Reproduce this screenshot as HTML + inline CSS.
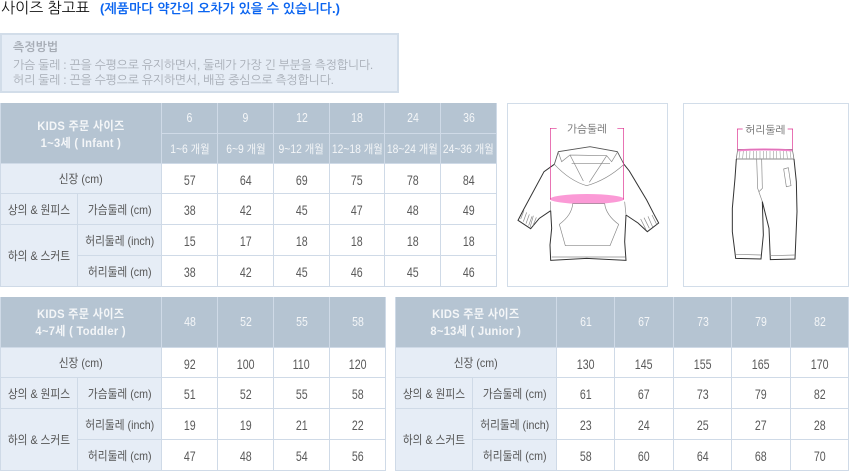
<!DOCTYPE html>
<html lang="ko"><head><meta charset="utf-8"><title>사이즈 참고표</title>
<style>
html,body{margin:0;padding:0;background:#fff;width:849px;height:471px;overflow:hidden}
body{position:relative;font-family:"Liberation Sans","NanumGothic","Noto Sans CJK KR",sans-serif}
.title{position:absolute;left:1px;top:0;font-size:15px;line-height:18px;color:#111;white-space:nowrap;font-family:"Liberation Sans","NanumGothic",sans-serif}
.title b{position:absolute;left:99px;top:0;color:#0a64f0;font-size:13px;letter-spacing:.08px}
.note{position:absolute;left:0;top:33px;width:395px;height:56px;border:2px solid #d2dde9;background:#e6edf6;color:#a7adb6;font-size:12px;font-family:"Liberation Sans","NanumGothic",sans-serif}
.note div{position:absolute;left:11px;white-space:nowrap;line-height:15px;letter-spacing:-.25px}
.wrap{position:absolute;overflow:hidden}
table{border-collapse:separate;border-spacing:1px;background:#cfdae7;table-layout:fixed;margin-top:-1px;font-family:"Liberation Sans","Noto Sans CJK KR",sans-serif}
td{padding:0;text-align:center;vertical-align:middle;font-size:12px;color:#555;background:#fff;overflow:hidden;white-space:nowrap}
td i{font-style:normal;display:inline-block;margin:0 -30px;transform:scaleX(.92)}
td.n{font-size:14px;padding-top:2px;box-sizing:border-box;color:#5a5a5a}
td.n i{transform:scaleX(.76)}
td.h{background:#b5c4d2;color:#f4f6f8;font-size:12.5px}
td.h i{transform:scaleX(.84)}
td.hs{font-size:11.5px}
td.hs i{transform:scaleX(.9)}
td.t{font-weight:bold;font-size:12px;line-height:17px;letter-spacing:.3px;padding-top:1px;box-sizing:border-box}
td.t i{transform:scaleX(.93)}
td.l{background:#e6edf6;color:#555;font-size:12px}
td.l i{transform:scaleX(.89)}
.box{position:absolute;border:1px solid #d2dde9;box-sizing:border-box;background:#fff}
svg{position:absolute;overflow:visible}
svg text{font-family:"Liberation Sans","NanumGothic","Noto Sans CJK KR",sans-serif}
</style></head><body>
<div class="title">사이즈 참고표 <b>(제품마다 약간의 오차가 있을 수 있습니다.)</b></div>
<div class="note">
<div style="top:5px;font-weight:bold;letter-spacing:0">측정방법</div>
<div style="top:23px">가슴 둘레 : 끈을 수평으로 유지하면서, 둘레가 가장 긴 부분을 측정합니다.</div>
<div style="top:38px">허리 둘레 : 끈을 수평으로 유지하면서, 배꼽 중심으로 측정합니다.</div>
</div>

<div class="wrap" style="left:0;top:103px;width:497px;height:184px">
<table style="width:497px"><colgroup><col style="width:76px"><col style="width:83px"><col style="width:55px"><col style="width:55px"><col style="width:55px"><col style="width:54px"><col style="width:55px"><col style="width:55px"></colgroup>
<tr style="height:30px"><td class="h t" style="padding-top:4px" colspan="2" rowspan="2"><i>KIDS 주문 사이즈<br>1~3세 ( Infant )</i></td><td class="h"><i>6</i></td><td class="h"><i>9</i></td><td class="h"><i>12</i></td><td class="h"><i>18</i></td><td class="h"><i>24</i></td><td class="h"><i>36</i></td></tr>
<tr style="height:29px"><td class="h hs"><i>1~6 개월</i></td><td class="h hs"><i>6~9 개월</i></td><td class="h hs"><i>9~12 개월</i></td><td class="h hs"><i>12~18 개월</i></td><td class="h hs"><i>18~24 개월</i></td><td class="h hs"><i>24~36 개월</i></td></tr>
<tr style="height:29px"><td class="l" colspan="2"><i>신장 (cm)</i></td><td class="n"><i>57</i></td><td class="n"><i>64</i></td><td class="n"><i>69</i></td><td class="n"><i>75</i></td><td class="n"><i>78</i></td><td class="n"><i>84</i></td></tr>
<tr style="height:30px"><td class="l"><i>상의 &amp; 원피스</i></td><td class="l"><i>가슴둘레 (cm)</i></td><td class="n"><i>38</i></td><td class="n"><i>42</i></td><td class="n"><i>45</i></td><td class="n"><i>47</i></td><td class="n"><i>48</i></td><td class="n"><i>49</i></td></tr>
<tr style="height:30px"><td class="l" rowspan="2"><i>하의 &amp; 스커트</i></td><td class="l"><i>허리둘레 (inch)</i></td><td class="n"><i>15</i></td><td class="n"><i>17</i></td><td class="n"><i>18</i></td><td class="n"><i>18</i></td><td class="n"><i>18</i></td><td class="n"><i>18</i></td></tr>
<tr style="height:30px"><td class="l"><i>허리둘레 (cm)</i></td><td class="n"><i>38</i></td><td class="n"><i>42</i></td><td class="n"><i>45</i></td><td class="n"><i>46</i></td><td class="n"><i>45</i></td><td class="n"><i>46</i></td></tr>
</table></div>

<div class="wrap" style="left:0;top:297px;width:386px;height:174px">
<table style="width:386px"><colgroup><col style="width:76px"><col style="width:83px"><col style="width:55px"><col style="width:55px"><col style="width:55px"><col style="width:55px"></colgroup>
<tr style="height:50px"><td class="h t" colspan="2"><i>KIDS 주문 사이즈<br>4~7세 ( Toddler )</i></td><td class="h"><i>48</i></td><td class="h"><i>52</i></td><td class="h"><i>55</i></td><td class="h"><i>58</i></td></tr>
<tr style="height:29px"><td class="l" colspan="2"><i>신장 (cm)</i></td><td class="n"><i>92</i></td><td class="n"><i>100</i></td><td class="n"><i>110</i></td><td class="n"><i>120</i></td></tr>
<tr style="height:30px"><td class="l"><i>상의 &amp; 원피스</i></td><td class="l"><i>가슴둘레 (cm)</i></td><td class="n"><i>51</i></td><td class="n"><i>52</i></td><td class="n"><i>55</i></td><td class="n"><i>58</i></td></tr>
<tr style="height:30px"><td class="l" rowspan="2"><i>하의 &amp; 스커트</i></td><td class="l"><i>허리둘레 (inch)</i></td><td class="n"><i>19</i></td><td class="n"><i>19</i></td><td class="n"><i>21</i></td><td class="n"><i>22</i></td></tr>
<tr style="height:30px"><td class="l"><i>허리둘레 (cm)</i></td><td class="n"><i>47</i></td><td class="n"><i>48</i></td><td class="n"><i>54</i></td><td class="n"><i>56</i></td></tr>
</table></div>

<div class="wrap" style="left:395px;top:297px;width:454px;height:174px">
<table style="width:454px"><colgroup><col style="width:76px"><col style="width:83px"><col style="width:57px"><col style="width:58px"><col style="width:57px"><col style="width:58px"><col style="width:57px"></colgroup>
<tr style="height:50px"><td class="h t" colspan="2"><i>KIDS 주문 사이즈<br>8~13세 ( Junior )</i></td><td class="h"><i>61</i></td><td class="h"><i>67</i></td><td class="h"><i>73</i></td><td class="h"><i>79</i></td><td class="h"><i>82</i></td></tr>
<tr style="height:29px"><td class="l" colspan="2"><i>신장 (cm)</i></td><td class="n"><i>130</i></td><td class="n"><i>145</i></td><td class="n"><i>155</i></td><td class="n"><i>165</i></td><td class="n"><i>170</i></td></tr>
<tr style="height:30px"><td class="l"><i>상의 &amp; 원피스</i></td><td class="l"><i>가슴둘레 (cm)</i></td><td class="n"><i>61</i></td><td class="n"><i>67</i></td><td class="n"><i>73</i></td><td class="n"><i>79</i></td><td class="n"><i>82</i></td></tr>
<tr style="height:30px"><td class="l" rowspan="2"><i>하의 &amp; 스커트</i></td><td class="l"><i>허리둘레 (inch)</i></td><td class="n"><i>23</i></td><td class="n"><i>24</i></td><td class="n"><i>25</i></td><td class="n"><i>27</i></td><td class="n"><i>28</i></td></tr>
<tr style="height:30px"><td class="l"><i>허리둘레 (cm)</i></td><td class="n"><i>58</i></td><td class="n"><i>60</i></td><td class="n"><i>64</i></td><td class="n"><i>68</i></td><td class="n"><i>70</i></td></tr>
</table></div>

<div class="box" style="left:507px;top:103px;width:161px;height:184px"></div>
<svg style="left:500px;top:95px" width="170" height="200" viewBox="0 0 510 600">
<ellipse cx="261" cy="312" rx="111" ry="15" fill="#fb9ad6"/>
<g fill="none" stroke="#333" stroke-width="3">
<path d="M163 208 L132 230 L70 345 L54 376 L92 401 L118 370 L152 347"/>
<path d="M372 208 L388 228 L440 315 L462 358 L476 384 L442 410 L414 384 L378 360"/>
<path d="M152 347 L155 400 L150 450 L152 496 L260 490 L378 496 L374 440 L378 360"/>
<path d="M163 208 L175 170 L270 155 L352 170 L372 208" stroke="#555" stroke-width="2.5"/>
</g>
<g fill="none" stroke="#888" stroke-width="2">
<path d="M163 208 Q210 258 260 272 Q320 255 372 208"/>
<path d="M175 172 L185 200 L210 180 L250 258 M352 172 L335 200 L320 182 L268 262 M210 180 L320 182 M215 205 L330 205"/>
<path d="M152 320 L152 347 M374 320 L378 360"/>
<path d="M218 326 Q216 360 178 388 L196 452 L330 452 L356 388 Q318 360 314 326 Z"/>
<path d="M155 486 L375 486"/>
<path d="M62 372 L72 346 M70 380 L80 352 M78 386 L88 358 M86 392 L96 364 M100 362 L90 398 M109 367 L99 392 M422 372 L438 404 M432 368 L448 400 M444 364 L458 396 M456 360 L470 388"/>
</g>
<g fill="none" stroke="#dd2e8e" stroke-width="2">
<path d="M170 100 L151 100 L151 314"/><path d="M352 100 L371 100 L371 314"/>
</g>
<text x="261" y="112" font-size="32" fill="#666" text-anchor="middle">가슴둘레</text>
</svg>

<div class="box" style="left:683px;top:103px;width:166px;height:184px"></div>
<svg style="left:675px;top:95px" width="174" height="200" viewBox="0 0 522 600">
<path d="M188 163 L352 163 L357 192 L184 192 Z" fill="#fff" stroke="#666" stroke-width="2"/>
<path d="M195 168 L192 190 M205 168 L203 190 M215 168 L214 190 M225 168 L224 190 M235 168 L235 190 M245 168 L245 190 M255 168 L255 190 M265 168 L265 190 M275 168 L275 190 M285 168 L285 190 M295 168 L295 190 M305 168 L305 190 M315 168 L316 190 M325 168 L326 190 M335 168 L337 190 M345 168 L348 190" stroke="#888" stroke-width="1.5" fill="none"/>
<path d="M188 163 Q270 157 352 163 L352 169 Q270 164 188 169 Z" fill="#f06ac0" opacity=".8"/>
<g fill="none" stroke="#333" stroke-width="3">
<path d="M184 192 L180 250 L172 340 L172 410 L182 490 L258 492 L265 420 L262 320"/>
<path d="M357 192 L364 260 L366 350 L360 492 L286 494 L282 400 L262 320"/>
</g>
<g fill="none" stroke="#888" stroke-width="2">
<path d="M245 192 L248 280 L262 320 M260 192 L262 280 L252 290"/>
<path d="M326 222 L340 218 L348 272 L334 275 Z"/>
<path d="M183 478 L258 480 M284 482 L360 480"/>
</g>
<g fill="none" stroke="#dd2e8e" stroke-width="2">
<path d="M203 102 L187 102 L187 163"/><path d="M338 102 L353 102 L353 163"/>
</g>
<text x="271" y="116" font-size="32" fill="#666" text-anchor="middle">허리둘레</text>
</svg>
</body></html>
